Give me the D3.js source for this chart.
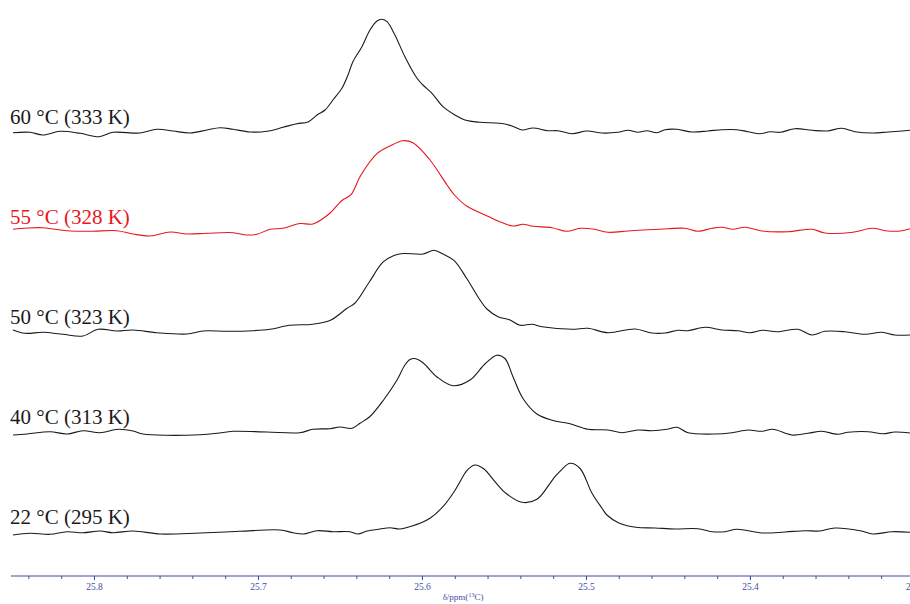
<!DOCTYPE html>
<html>
<head>
<meta charset="utf-8">
<script src="https://cdn.jsdelivr.net/npm/d3@7"></script>
<style>
	body { margin: 0; background: #fff; }
	svg { display: block; }
	.label { font-family: "Liberation Serif", "DejaVu Serif", serif; font-size: 21px; }
	.axis text { font-family: "Liberation Serif", serif; font-size: 9.5px; fill: #3d4f9f; }
	.axis path, .axis line { stroke: #3d4f9f; }
</style>
</head>
<body>
<svg id="chart" width="910" height="604"></svg>
<script>
	// spectra, [ppm, intensity]
	var s60 = [[25.8494,-1.2],[25.8390,-0.8],[25.8311,-3.5],[25.8207,0.2],[25.8085,-1.8],[25.7969,-5.2],[25.7884,-0.8],[25.7719,-1.5],[25.7616,2.2],[25.7518,0.5],[25.7415,-1.5],[25.7311,1.5],[25.7232,3.8],[25.7152,2.2],[25.7049,-0.5],[25.6945,0.2],[25.6847,4.2],[25.6762,7.8],[25.6695,9.5],[25.6640,16.5],[25.6591,21.5],[25.6543,31.5],[25.6488,43.2],[25.6451,56.5],[25.6421,69.8],[25.6366,84.8],[25.6317,101.5],[25.6274,110.5],[25.6244,112.2],[25.6213,109.8],[25.6165,96.5],[25.6104,74.8],[25.6030,53.2],[25.5994,46.5],[25.5939,38.2],[25.5872,24.8],[25.5799,16.5],[25.5738,11.5],[25.5646,9.2],[25.5524,8.2],[25.5451,5.5],[25.5390,1.5],[25.5323,3.5],[25.5232,0.8],[25.5171,0.8],[25.5085,-2.2],[25.4994,0.5],[25.4902,-1.5],[25.4805,-0.8],[25.4744,1.2],[25.4683,-0.8],[25.4628,0.8],[25.4567,-1.2],[25.4518,1.8],[25.4445,2.2],[25.4354,-0.5],[25.4256,0.5],[25.4171,1.8],[25.4079,1.8],[25.4012,-0.2],[25.3939,-2.2],[25.3878,-0.2],[25.3817,-0.8],[25.3725,2.8],[25.3622,1.2],[25.3530,0.5],[25.3439,3.2],[25.3360,-0.2],[25.3250,-1.5],[25.3158,-0.5],[25.3073,0.5],[25.3024,1.2]];

	var s55 = [[25.8494,2.2],[25.8408,3.5],[25.8311,3.8],[25.8165,0.8],[25.8024,0.2],[25.7860,0.8],[25.7762,-2.5],[25.7658,-4.5],[25.7536,-0.5],[25.7433,-2.5],[25.7311,-1.8],[25.7152,-1.2],[25.7067,-3.5],[25.7006,-2.8],[25.6927,2.2],[25.6847,3.2],[25.6744,8.0],[25.6665,7.5],[25.6567,17.5],[25.6488,31.0],[25.6433,36.8],[25.6372,56.5],[25.6274,77.8],[25.6195,85.5],[25.6116,90.8],[25.6055,88.7],[25.5951,71.5],[25.5847,46.5],[25.5799,36.0],[25.5725,25.2],[25.5591,14.8],[25.5536,10.5],[25.5445,5.5],[25.5384,7.2],[25.5323,5.2],[25.5207,3.8],[25.5116,0.2],[25.5036,3.2],[25.4957,2.5],[25.4866,-0.8],[25.4744,0.5],[25.4622,1.8],[25.4500,2.8],[25.4396,3.2],[25.4317,0.2],[25.4232,3.2],[25.4171,4.2],[25.4104,2.2],[25.4030,4.2],[25.3927,0.5],[25.3768,-0.2],[25.3622,2.2],[25.3543,-1.5],[25.3372,-0.8],[25.3256,3.2],[25.3158,0.5],[25.3073,0.8],[25.3024,2.8]];

	var s50 = [[25.8494,1.5],[25.8421,-1.8],[25.8311,-0.8],[25.8189,-2.8],[25.8067,-4.5],[25.7975,2.2],[25.7860,0.5],[25.7762,1.5],[25.7616,-1.2],[25.7433,-2.5],[25.7335,0.5],[25.7189,0.2],[25.7030,0.8],[25.6927,2.2],[25.6805,6.2],[25.6665,7.3],[25.6555,11.5],[25.6457,23.2],[25.6408,28.5],[25.6323,49.0],[25.6238,69.3],[25.6171,76.0],[25.6116,78.0],[25.5994,77.5],[25.5927,81.3],[25.5872,77.5],[25.5805,71.2],[25.5725,52.5],[25.5646,31.5],[25.5604,22.5],[25.5536,14.8],[25.5463,11.5],[25.5402,6.3],[25.5329,7.2],[25.5268,4.8],[25.5085,2.2],[25.4988,3.2],[25.4866,-1.2],[25.4701,2.5],[25.4597,-1.5],[25.4518,-1.5],[25.4439,1.2],[25.4378,0.8],[25.4274,4.2],[25.4171,1.5],[25.4073,0.8],[25.4000,-1.2],[25.3921,1.2],[25.3835,-0.2],[25.3707,2.2],[25.3622,-3.5],[25.3543,0.2],[25.3421,-0.2],[25.3299,-2.8],[25.3195,-0.8],[25.3116,-3.5],[25.3024,-3.5]];

	var s40 = [[25.8494,-3.5],[25.8408,-2.5],[25.8268,-0.2],[25.8165,-2.5],[25.8067,0.8],[25.7963,-1.2],[25.7854,2.2],[25.7762,0.5],[25.7701,-2.5],[25.7555,-3.8],[25.7354,-3.2],[25.7250,-1.8],[25.7152,0.2],[25.6945,-0.5],[25.6744,-1.2],[25.6665,2.2],[25.6561,2.8],[25.6500,4.5],[25.6427,3.2],[25.6378,8.2],[25.6317,15.0],[25.6232,32.0],[25.6152,51.5],[25.6104,66.5],[25.6073,72.0],[25.6043,73.0],[25.5994,68.8],[25.5908,54.5],[25.5811,45.8],[25.5707,51.5],[25.5616,67.5],[25.5543,76.3],[25.5494,73.0],[25.5445,54.8],[25.5384,33.0],[25.5299,17.5],[25.5207,11.3],[25.5097,7.7],[25.4988,2.2],[25.4866,1.5],[25.4780,-1.2],[25.4683,1.5],[25.4597,0.8],[25.4506,2.2],[25.4445,4.2],[25.4378,-1.2],[25.4213,-2.5],[25.4110,-1.2],[25.4012,1.5],[25.3927,0.2],[25.3860,2.2],[25.3744,-3.5],[25.3646,-1.8],[25.3561,0.2],[25.3463,-2.8],[25.3402,-0.8],[25.3280,-0.2],[25.3189,-2.2],[25.3116,-0.5],[25.3024,-1.5]];

	var s22 = [[25.8494,-3.5],[25.8390,-1.8],[25.8268,-2.8],[25.8165,-0.2],[25.8067,-1.2],[25.7963,0.5],[25.7884,-1.2],[25.7762,0.5],[25.7597,-2.5],[25.7354,-1.5],[25.7110,0.2],[25.6866,1.5],[25.6786,-1.2],[25.6725,-2.5],[25.6640,0.8],[25.6543,-0.2],[25.6439,-0.2],[25.6390,-2.5],[25.6335,0.5],[25.6256,2.5],[25.6195,3.8],[25.6134,2.5],[25.6055,5.8],[25.6012,8.2],[25.5951,13.2],[25.5872,24.8],[25.5799,41.0],[25.5738,58.2],[25.5719,62.2],[25.5677,66.5],[25.5622,62.5],[25.5555,49.8],[25.5488,38.2],[25.5390,29.2],[25.5299,32.2],[25.5219,48.2],[25.5189,54.8],[25.5146,62.2],[25.5097,68.2],[25.5036,63.0],[25.4963,38.2],[25.4902,23.2],[25.4872,16.5],[25.4799,8.5],[25.4695,4.2],[25.4579,3.5],[25.4457,2.5],[25.4317,2.8],[25.4232,-0.2],[25.4152,-0.2],[25.4079,2.2],[25.3927,-1.5],[25.3786,-0.5],[25.3665,0.8],[25.3573,0.5],[25.3482,3.5],[25.3329,0.8],[25.3250,-2.5],[25.3134,-0.2],[25.3024,-0.8]];

	var labels = ["60 °C (333 K)", "55 °C (328 K)", "50 °C (323 K)", "40 °C (313 K)", "22 °C (295 K)"];
	var spectra = [s60, s55, s50, s40, s22];
	var offsets = [400, 300, 200, 100, 0];
	var colors = ["#1a1a1a", "#e8161d", "#1a1a1a", "#1a1a1a", "#1a1a1a"];

	var majorTicks = [25.8, 25.7, 25.6, 25.5, 25.4, 25.3];
	var minorTicks = d3.range(25.84, 25.29, -0.02).map(function (v) { return +v.toFixed(2); });

	const svg = d3.select("#chart");

	let x = d3.scaleLinear()
		.domain([25.8506, 25.3024])
		.range([11, 910]);

	let y = d3.scaleLinear()
		.domain([0, 500])
		.range([531.5, 31.5]);

	for (var i = 0; i < spectra.length; i++) {
		let off = offsets[i];

		const lineDrawer = d3.line()
			.curve(d3.curveCatmullRom.alpha(0.5))
			.x(d => x(d[0]))
			.y(d => y(d[1] + off));

		svg.append("path")
			.datum(spectra[i])
			.attr("fill", "none")
			.attr("stroke", colors[i])
			.attr("stroke-width", 1.1)
			.attr("stroke-linejoin", "round")
			.attr("d", lineDrawer);

		svg.append("text")
			.attr("class", "label")
			.attr("x", 10)
			.attr("y", y(off) - 8)
			.attr("fill", colors[i])
			.text(labels[i]);
	}

	// axis
	const axisY = 576;

	svg.append("g")
		.attr("class", "axis")
		.attr("transform", "translate(0," + axisY + ")")
		.call(d3.axisBottom(x).tickValues(minorTicks).tickSize(3).tickSizeOuter(0).tickFormat(""))
		.select(".domain").remove();

	let axis = svg.append("g")
		.attr("class", "axis")
		.attr("transform", "translate(0," + axisY + ")")
		.call(d3.axisBottom(x).tickValues(majorTicks).tickSize(4).tickSizeOuter(0).tickPadding(3).tickFormat(d3.format(".1f")));

	axis.select(".domain").attr("d", "M" + x.range()[0] + ",0H" + x.range()[1]).attr("stroke-width", 1.2);

	let title = svg.append("text")
		.attr("x", 463)
		.attr("y", 600)
		.attr("text-anchor", "middle")
		.attr("fill", "#3d4f9f")
		.style("font-family", "Liberation Serif, serif")
		.style("font-size", "9px");

	title.append("tspan").text("δ/ppm(");
	title.append("tspan").attr("dy", -3).style("font-size", "6px").text("13");
	title.append("tspan").attr("dy", 3).text("C)");
</script>
</body>
</html>
